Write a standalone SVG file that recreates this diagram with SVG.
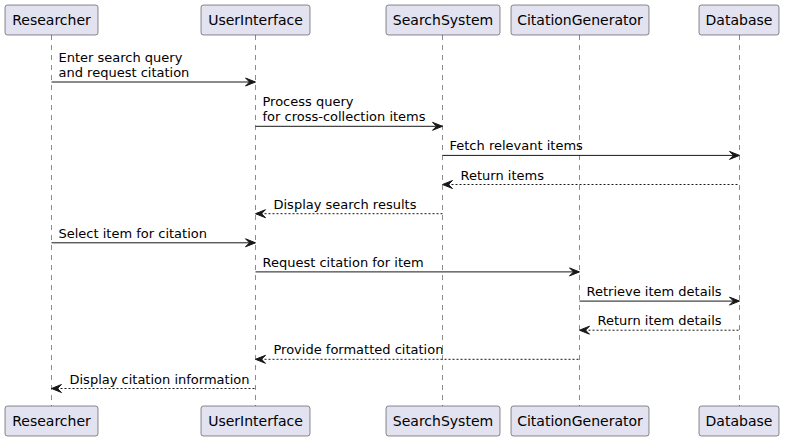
<svg xmlns="http://www.w3.org/2000/svg" width="785" height="441" viewBox="0 0 785 441">
<defs>
<style>
.box{fill:#E2E2F0;stroke:#181818;stroke-width:0.5}
.life{stroke:#181818;stroke-width:0.5;stroke-dasharray:5,5;fill:none}
.pt{font-family:"DejaVu Sans",sans-serif;font-size:14px;fill:#000;text-anchor:middle}
.msg{font-family:"DejaVu Sans",sans-serif;font-size:13px;fill:#000}
.sol{stroke:#181818;stroke-width:1;fill:none}
.dash{stroke:#181818;stroke-width:1;stroke-dasharray:2,2;fill:none}
.ah{fill:#181818;stroke:#181818;stroke-width:1}
</style>
</defs>
<rect width="785" height="441" fill="#FFFFFF"/>
<g id="lifelines">
<line class="life" x1="51.5" y1="35" x2="51.5" y2="406"/>
<line class="life" x1="255.5" y1="35" x2="255.5" y2="406"/>
<line class="life" x1="442.5" y1="35" x2="442.5" y2="406"/>
<line class="life" x1="579.5" y1="35" x2="579.5" y2="406"/>
<line class="life" x1="739.5" y1="35" x2="739.5" y2="406"/>
</g>
<g id="Researcher">
<rect class="box" x="5" y="5" width="93" height="30" rx="2.5"/>
<text class="pt" x="51.5" y="25">Researcher</text>
<rect class="box" x="5" y="406" width="93" height="30" rx="2.5"/>
<text class="pt" x="51.5" y="426">Researcher</text>
</g>
<g id="UserInterface">
<rect class="box" x="201" y="5" width="109" height="30" rx="2.5"/>
<text class="pt" x="255.5" y="25">UserInterface</text>
<rect class="box" x="201" y="406" width="109" height="30" rx="2.5"/>
<text class="pt" x="255.5" y="426">UserInterface</text>
</g>
<g id="SearchSystem">
<rect class="box" x="386" y="5" width="114" height="30" rx="2.5"/>
<text class="pt" x="443" y="25">SearchSystem</text>
<rect class="box" x="386" y="406" width="114" height="30" rx="2.5"/>
<text class="pt" x="443" y="426">SearchSystem</text>
</g>
<g id="CitationGenerator">
<rect class="box" x="511" y="5" width="138" height="30" rx="2.5"/>
<text class="pt" x="580" y="25">CitationGenerator</text>
<rect class="box" x="511" y="406" width="138" height="30" rx="2.5"/>
<text class="pt" x="580" y="426">CitationGenerator</text>
</g>
<g id="Database">
<rect class="box" x="699" y="5" width="80" height="30" rx="2.5"/>
<text class="pt" x="739" y="25">Database</text>
<rect class="box" x="699" y="406" width="80" height="30" rx="2.5"/>
<text class="pt" x="739" y="426">Database</text>
</g>
<g id="connectors">
<!-- 1 -->
<line class="sol" x1="51.5" y1="82" x2="254.5" y2="82"/>
<polygon class="ah" points="245.5,78 255.5,82 245.5,86 249.5,82"/>
<text class="msg" x="58.5" y="62">Enter search query</text>
<text class="msg" x="58.5" y="77">and request citation</text>
<!-- 2 -->
<line class="sol" x1="255.5" y1="126.3" x2="441.5" y2="126.3"/>
<polygon class="ah" points="432.5,122.3 442.5,126.3 432.5,130.3 436.5,126.3"/>
<text class="msg" x="262.5" y="106.2">Process query</text>
<text class="msg" x="262.5" y="121.3">for cross-collection items</text>
<!-- 3 -->
<line class="sol" x1="442.5" y1="155.4" x2="738.5" y2="155.4"/>
<polygon class="ah" points="729.5,151.4 739.5,155.4 729.5,159.4 733.5,155.4"/>
<text class="msg" x="449.5" y="150.4">Fetch relevant items</text>
<!-- 4 -->
<line class="dash" x1="443.5" y1="184.5" x2="739.5" y2="184.5"/>
<polygon class="ah" points="452.5,180.5 442.5,184.5 452.5,188.5 448.5,184.5"/>
<text class="msg" x="460.5" y="179.5">Return items</text>
<!-- 5 -->
<line class="dash" x1="256.5" y1="213.7" x2="442.5" y2="213.7"/>
<polygon class="ah" points="265.5,209.7 255.5,213.7 265.5,217.7 261.5,213.7"/>
<text class="msg" x="273.5" y="208.7">Display search results</text>
<!-- 6 -->
<line class="sol" x1="51.5" y1="242.8" x2="254.5" y2="242.8"/>
<polygon class="ah" points="245.5,238.8 255.5,242.8 245.5,246.8 249.5,242.8"/>
<text class="msg" x="58.5" y="237.8">Select item for citation</text>
<!-- 7 -->
<line class="sol" x1="255.5" y1="271.9" x2="578.5" y2="271.9"/>
<polygon class="ah" points="569.5,267.9 579.5,271.9 569.5,275.9 573.5,271.9"/>
<text class="msg" x="262.5" y="266.9">Request citation for item</text>
<!-- 8 -->
<line class="sol" x1="579.5" y1="301.1" x2="738.5" y2="301.1"/>
<polygon class="ah" points="729.5,297.1 739.5,301.1 729.5,305.1 733.5,301.1"/>
<text class="msg" x="586.5" y="296.1">Retrieve item details</text>
<!-- 9 -->
<line class="dash" x1="580.5" y1="330.2" x2="739.5" y2="330.2"/>
<polygon class="ah" points="589.5,326.2 579.5,330.2 589.5,334.2 585.5,330.2"/>
<text class="msg" x="597.5" y="325.2">Return item details</text>
<!-- 10 -->
<line class="dash" x1="256.5" y1="359.3" x2="579.5" y2="359.3"/>
<polygon class="ah" points="265.5,355.3 255.5,359.3 265.5,363.3 261.5,359.3"/>
<text class="msg" x="273.5" y="354.3">Provide formatted citation</text>
<!-- 11 -->
<line class="dash" x1="52.5" y1="388.5" x2="255.5" y2="388.5"/>
<polygon class="ah" points="61.5,384.5 51.5,388.5 61.5,392.5 57.5,388.5"/>
<text class="msg" x="69.5" y="383.5">Display citation information</text>
</g>
</svg>
